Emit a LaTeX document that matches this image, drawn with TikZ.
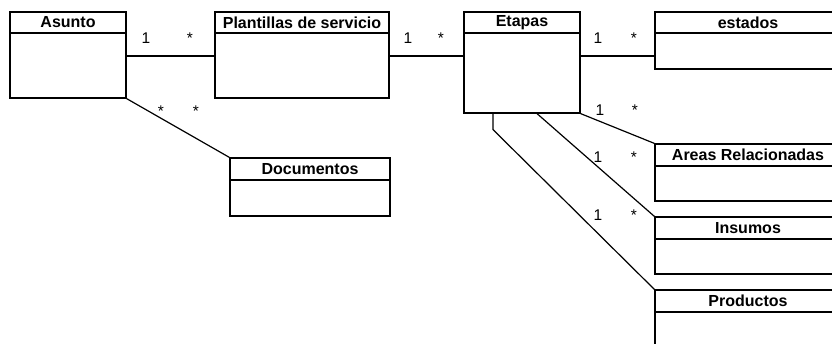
\documentclass[tikz,border=0pt]{standalone}
\usepackage{fontspec}
\setmainfont{Liberation Sans}
\begin{document}
\begin{tikzpicture}[x=1pt, y=-1pt, line width=1.2pt,
        cab/.style={draw, rectangle, inner sep=0pt, font=\fontsize{16}{18}\selectfont\bfseries},
        cuerpo/.style={draw, rectangle, inner sep=0pt},
        mult/.style={anchor=base, inner sep=0pt, font=\fontsize{15.5}{18}\selectfont}]
    \clip (0,0) rectangle (832,343);
    % clases
    \node at (68,22.5) [cab, minimum width=116pt, minimum height=21pt] (asuntoH) {Asunto};
    \node at (68,65.5) [cuerpo, minimum width=116pt, minimum height=65pt] (asuntoB) {};
    \node at (302,22.5) [cab, minimum width=174pt, minimum height=21pt] (plantH) {Plantillas de servicio};
    \node at (302,65.5) [cuerpo, minimum width=174pt, minimum height=65pt] (plantB) {};
    \node at (522,22.5) [cab, minimum width=116pt, minimum height=21pt] (etapasH) {Etapas};
    \node at (522,73) [cuerpo, minimum width=116pt, minimum height=80pt] (etapasB) {};
    \node at (748,22.5) [cab, minimum width=186pt, minimum height=21pt] (estadosH) {estados};
    \node at (748,51) [cuerpo, minimum width=186pt, minimum height=36pt] (estadosB) {};
    \node at (310,169) [cab, minimum width=160pt, minimum height=22pt] (docH) {Documentos};
    \node at (310,198) [cuerpo, minimum width=160pt, minimum height=36pt] (docB) {};
    \node at (748,155) [cab, minimum width=186pt, minimum height=22pt] (areasH) {Areas Relacionadas};
    \node at (748,183.5) [cuerpo, minimum width=186pt, minimum height=35pt] (areasB) {};
    \node at (748,228) [cab, minimum width=186pt, minimum height=22pt] (insH) {Insumos};
    \node at (748,256.5) [cuerpo, minimum width=186pt, minimum height=35pt] (insB) {};
    \node at (748,301) [cab, minimum width=186pt, minimum height=22pt] (prodH) {Productos};
    \node at (748,338.5) [cuerpo, minimum width=186pt, minimum height=53pt] (prodB) {};
    % asociaciones
    \draw ([yshift=9.5pt]asuntoB.east) -- ([yshift=9.5pt]plantB.west);
    \draw ([yshift=9.5pt]plantB.east) -- ([yshift=17pt]etapasB.west);
    \draw ([yshift=17pt]etapasB.east) -- ([yshift=-5pt]estadosB.west);
    \draw (asuntoB.south east) -- (docH.north west);
    \draw (etapasB.south east) -- (areasH.north west);
    \draw ([xshift=15pt]etapasB.south) -- (insH.north west);
    \draw ([xshift=-29pt]etapasB.south) -- ++(0,16) -- (prodH.north west);
    % multiplicidades
    \node[mult] (m1a) at (146,43) {1};
    \node[mult] (m1b) at (190,43) {*};
    \node[mult] (m2a) at (408,43) {1};
    \node[mult] (m2b) at (441,43) {*};
    \node[mult] (m3a) at (598,43) {1};
    \node[mult] (m3b) at (634,43) {*};
    \node[mult] (m4a) at (600,115) {1};
    \node[mult] (m4b) at (635,115) {*};
    \node[mult] (m5a) at (598,162) {1};
    \node[mult] (m5b) at (634,162) {*};
    \node[mult] (m6a) at (598,220) {1};
    \node[mult] (m6b) at (634,220) {*};
    \node[mult] (m7a) at (161,116) {*};
    \node[mult] (m7b) at (196,116) {*};
\end{tikzpicture}
\end{document}
